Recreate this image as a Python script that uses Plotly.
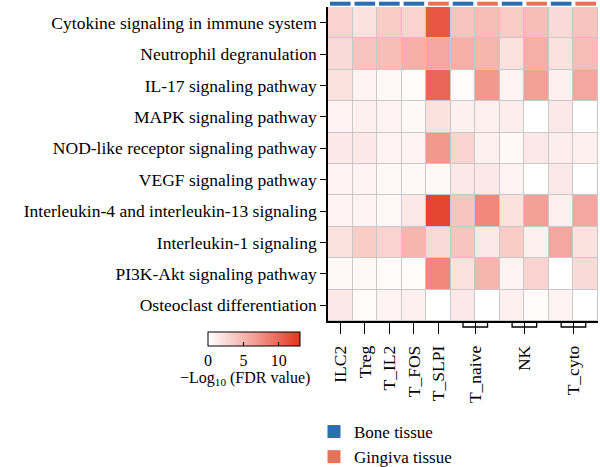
import plotly.graph_objects as go

pathways = [
    "Cytokine signaling in immune system",
    "Neutrophil degranulation",
    "IL-17 signaling pathway",
    "MAPK signaling pathway",
    "NOD-like receptor signaling pathway",
    "VEGF signaling pathway",
    "Interleukin-4 and interleukin-13 signaling",
    "Interleukin-1 signaling",
    "PI3K-Akt signaling pathway",
    "Osteoclast differentiation",
]
columns = ["ILC2", "Treg", "T_IL2", "T_FOS", "T_SLPI",
           "T_naive_b", "T_naive_g", "NK_b", "NK_g", "T_cyto_b", "T_cyto_g"]
tissue = ["Bone", "Bone", "Bone", "Bone", "Gingiva",
          "Bone", "Gingiva", "Bone", "Gingiva", "Bone", "Gingiva"]
tick_labels = ["ILC2", "Treg", "T_IL2", "T_FOS", "T_SLPI", "T_naive", "NK", "T_cyto"]
tick_pos = [0, 1, 2, 3, 4, 5.5, 7.5, 9.5]
groups = [(5, 6), (7, 8), (9, 10)]

values = [
    [3.0, 2.0, 3.5, 3.0, 11.0, 4.0, 4.5, 3.5, 4.5, 2.5, 4.0],
    [2.5, 4.0, 4.5, 5.5, 6.0, 5.5, 5.0, 2.0, 5.5, 2.0, 4.5],
    [2.0, 0.8, 0.5, 0.3, 10.0, 0.3, 7.0, 0.8, 6.5, 1.0, 6.0],
    [0.8, 1.0, 0.8, 0.5, 2.0, 1.0, 1.0, 1.2, 0.0, 1.5, 0.0],
    [1.5, 1.5, 0.8, 0.8, 7.0, 3.0, 1.0, 0.5, 1.5, 1.2, 1.0],
    [0.8, 0.8, 0.5, 0.5, 0.5, 1.5, 1.5, 0.8, 0.0, 1.5, 0.0],
    [0.8, 0.8, 0.5, 1.5, 12.0, 4.0, 8.0, 2.0, 6.5, 1.0, 6.0],
    [2.0, 3.5, 3.0, 5.0, 2.5, 4.0, 1.5, 3.5, 1.0, 6.0, 2.0],
    [0.5, 0.5, 0.3, 0.3, 8.0, 2.0, 5.0, 0.8, 3.0, 0.0, 2.5],
    [1.5, 0.3, 0.8, 1.0, 0.0, 1.5, 0.0, 1.0, 0.3, 0.8, 0.0],
]
tissue_colors = {"Bone": "#2a6db0", "Gingiva": "#e5735c"}

FONT = "Liberation Serif"
W, H = 600, 467
L, R, T, B = 328, 2, 7, 146
pw, ph = W - L - R, H - T - B

def px_x(p):
    return (p - L) / pw

def px_y(p):
    return (H - B - p) / ph

fig = go.Figure()
fig.add_trace(go.Heatmap(
    z=values, x=list(range(len(columns))), y=pathways,
    zmin=0, zmax=13,
    colorscale=[[0, "#ffffff"], [0.5, "#f3a096"], [1, "#e3351f"]],
    xgap=1, ygap=1,
    colorbar=dict(
        orientation="h", x=px_x(254), xanchor="center",
        y=px_y(332), yanchor="top",
        len=92, lenmode="pixels", thickness=14,
        outlinewidth=1, outlinecolor="black",
        tickvals=[0, 5, 10], ticks="inside", ticklen=4, tickcolor="black",
        tickfont=dict(family=FONT, size=16, color="black"),
        xpad=0, ypad=0,
    ),
    hoverinfo="skip",
))

for name in ["Bone", "Gingiva"]:
    fig.add_trace(go.Scatter(
        x=[None], y=[None], mode="markers", name=f"{name} tissue",
        marker=dict(symbol="square", size=13, color=tissue_colors[name]),
    ))

shapes = []
for i, t in enumerate(tissue):
    shapes.append(dict(type="rect", xref="x", yref="paper",
                       x0=i - 0.42, x1=i + 0.42, y0=px_y(5.7), y1=px_y(1.7),
                       fillcolor=tissue_colors[t], line=dict(width=0)))
for a, b in groups:
    yb = px_y(327)
    ya = px_y(321)
    shapes.append(dict(type="path", xref="x", yref="paper",
                       path=f"M {a},{ya} L {a},{yb} L {b},{yb} L {b},{ya}",
                       line=dict(color="black", width=1.3)))

fig.update_layout(
    width=W, height=H,
    margin=dict(l=L, r=R, t=T, b=B, autoexpand=False),
    plot_bgcolor="#c8c8c8", paper_bgcolor="white",
    font=dict(family=FONT, size=17.5, color="black"),
    shapes=shapes,
    showlegend=True,
    legend=dict(x=px_x(314), y=px_y(414), xanchor="left", yanchor="top",
                font=dict(family=FONT, size=17), bgcolor="rgba(0,0,0,0)",
                tracegroupgap=0),
    annotations=[dict(text="\u2212Log<sub>10</sub> (FDR value)", xref="paper", yref="paper",
                      x=px_x(245), y=px_y(378), xanchor="center", yanchor="middle",
                      showarrow=False, font=dict(family=FONT, size=16))],
)
fig.update_xaxes(range=[-0.5, len(columns) - 0.5], tickvals=tick_pos, ticktext=tick_labels,
                 tickangle=-90, ticks="outside", ticklen=11, tickwidth=1.3, tickcolor="black",
                 ticklabelstandoff=5,
                 showline=True, linecolor="black", linewidth=1.5, showgrid=False, zeroline=False,
                 tickfont=dict(family=FONT, size=17.5))
fig.update_yaxes(autorange="reversed", ticks="outside", ticklen=6, tickwidth=1.3, tickcolor="black",
                 showline=True, linecolor="black", linewidth=1.5, showgrid=False, zeroline=False,
                 tickfont=dict(family=FONT, size=17.5))

fig.write_html("out.html")
